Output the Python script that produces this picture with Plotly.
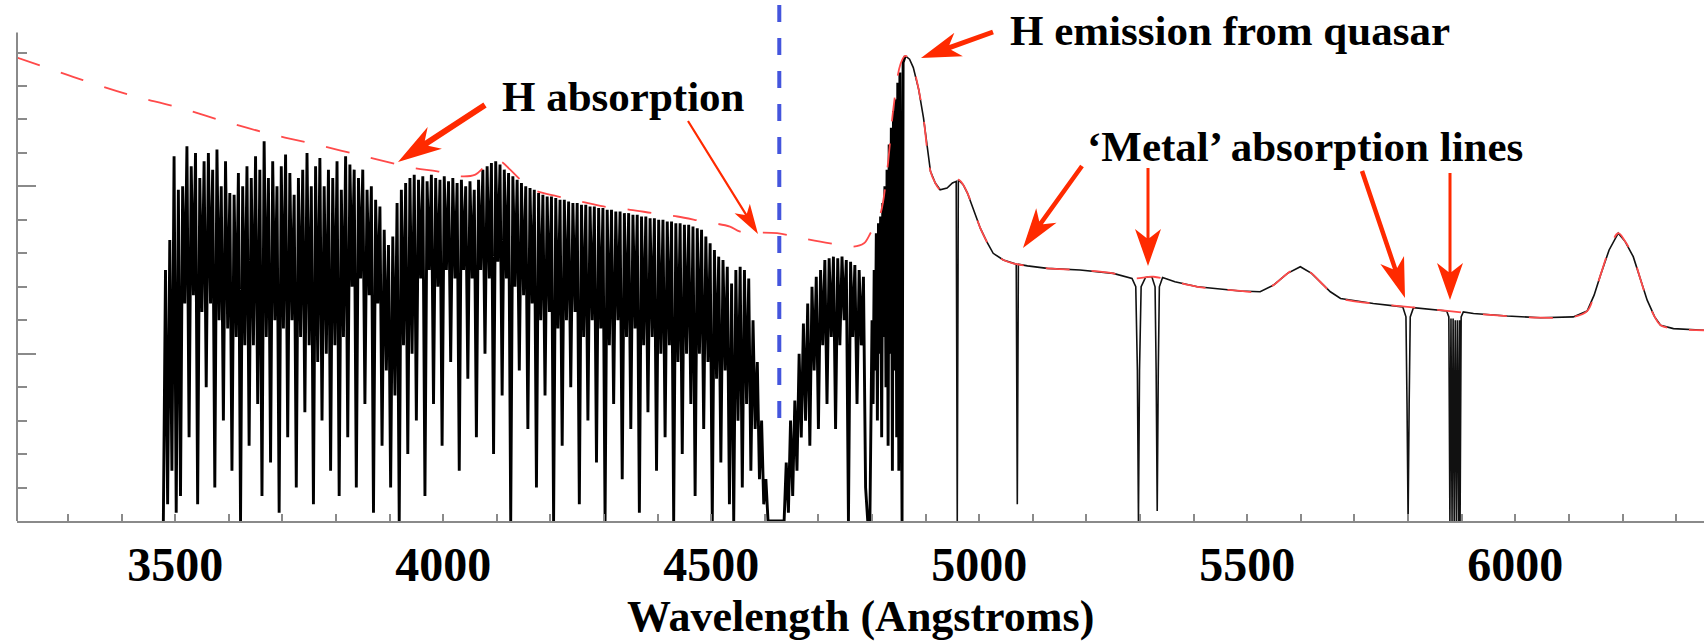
import plotly.graph_objects as go

# ---------------- data ----------------
# Lyman-alpha forest, part A (observed flux, alternating peaks / troughs)
forest_a_wl = [
    3478, 3482, 3486, 3490, 3494, 3498, 3502, 3506, 3510, 3514,
    3518, 3522, 3526, 3530, 3534, 3538, 3542, 3546, 3550, 3554,
    3558, 3562, 3566, 3570, 3574, 3578, 3582, 3586, 3590, 3594,
    3598, 3602, 3606, 3610, 3614, 3618, 3622, 3626, 3630, 3634,
    3638, 3642, 3646, 3650, 3654, 3658, 3662, 3666, 3670, 3674,
    3678, 3682, 3686, 3690, 3694, 3698, 3702, 3706, 3710, 3714,
    3718, 3722, 3726, 3730, 3734, 3738, 3742, 3746, 3750, 3754,
    3758, 3762, 3766, 3770, 3774, 3778, 3782, 3786, 3790, 3794,
    3798, 3802, 3806, 3810, 3814, 3818, 3822, 3826, 3830, 3834,
    3838, 3842, 3846, 3850, 3854, 3858, 3862, 3866, 3870, 3874,
    3878, 3882, 3886, 3890, 3894, 3898, 3902, 3906, 3910, 3914,
    3918, 3922, 3926, 3930, 3934, 3938, 3942, 3946, 3950, 3954,
    3958, 3962, 3966, 3970, 3974, 3978, 3982, 3986, 3990, 3994,
    3998, 4002, 4006, 4010, 4014, 4018, 4022, 4026, 4030, 4034,
    4038, 4042, 4046, 4050, 4054, 4058, 4062, 4066, 4070, 4074,
    4078, 4082, 4086, 4090, 4094, 4098, 4102, 4106, 4110, 4114,
    4118, 4122, 4126, 4130, 4134, 4138, 4142, 4146, 4150, 4154,
    4158, 4162, 4166, 4170, 4174, 4178, 4182, 4186, 4190, 4194,
    4198, 4202, 4206, 4210, 4214, 4218, 4222, 4226, 4230, 4234,
    4238, 4242, 4246, 4250, 4254, 4258, 4262, 4266, 4270, 4274,
    4278, 4282, 4286, 4290, 4294, 4298, 4302, 4306, 4310, 4314,
    4318, 4322, 4326, 4330, 4334, 4338, 4342, 4346, 4350, 4354,
    4358, 4362, 4366, 4370, 4374, 4378, 4382, 4386, 4390, 4394,
    4398, 4402, 4406, 4410, 4414, 4418, 4422, 4426, 4430, 4434,
    4438, 4442, 4446, 4450, 4454, 4458, 4462, 4466, 4470, 4474,
    4478, 4482, 4486, 4490, 4494, 4498, 4502, 4506, 4510, 4514,
    4518, 4522, 4526, 4530, 4534, 4538, 4542, 4546, 4550, 4554,
    4558, 4562, 4566, 4570, 4574, 4578, 4582, 4586, 4590, 4594,
    4598, 4602, 4606,
]
forest_a_flux = [
    0.00, 1.50, 0.10, 1.68, 0.30, 2.18, 0.05, 1.98, 0.15, 2.00,
    1.30, 2.24, 0.50, 2.12, 1.35, 2.20, 0.10, 2.05, 1.25, 2.15,
    0.80, 2.20, 1.30, 2.10, 0.20, 2.22, 1.20, 2.00, 0.60, 2.15,
    1.15, 1.96, 0.30, 1.95, 1.10, 2.08, 0.00, 2.00, 1.05, 2.12,
    0.45, 2.05, 1.05, 2.18, 0.70, 2.10, 0.15, 2.27, 1.10, 2.05,
    0.35, 2.15, 1.20, 2.00, 0.05, 2.12, 1.15, 2.19, 0.50, 2.08,
    1.20, 1.95, 0.20, 2.05, 1.10, 2.10, 0.65, 2.20, 1.05, 2.00,
    0.10, 2.12, 0.95, 2.17, 0.60, 2.00, 1.00, 2.10, 0.30, 2.05,
    1.05, 2.15, 0.15, 1.98, 1.10, 2.18, 0.50, 2.13, 1.40, 2.10,
    0.20, 2.05, 1.45, 2.10, 0.70, 1.98, 1.35, 2.00, 0.05, 1.92,
    1.30, 1.88, 0.45, 1.74, 0.90, 1.65, 0.20, 1.70, 0.75, 1.90,
    0.00, 1.98, 1.05, 2.02, 0.40, 2.05, 1.00, 2.07, 0.60, 2.04,
    1.45, 2.06, 0.15, 2.03, 1.50, 2.07, 0.70, 2.05, 1.40, 2.04,
    0.45, 2.06, 1.50, 2.03, 0.95, 2.05, 1.45, 2.02, 0.30, 2.04,
    1.50, 2.00, 0.85, 2.03, 1.45, 1.98, 0.50, 2.04, 1.50, 2.10,
    1.00, 2.12, 1.45, 2.14, 0.40, 2.15, 1.55, 2.13, 0.75, 2.10,
    1.45, 2.08, 0.00, 2.06, 1.40, 2.04, 0.90, 2.02, 1.35, 2.00,
    0.55, 1.99, 1.30, 1.98, 0.20, 1.96, 1.20, 1.95, 0.75, 1.94,
    1.25, 1.94, 0.00, 1.93, 1.15, 1.92, 0.45, 1.92, 1.20, 1.91,
    0.80, 1.90, 1.25, 1.90, 0.10, 1.89, 1.10, 1.89, 0.60, 1.88,
    1.20, 1.88, 0.35, 1.87, 1.15, 1.87, 0.00, 1.86, 1.05, 1.86,
    0.70, 1.85, 1.20, 1.85, 0.25, 1.84, 1.10, 1.84, 0.55, 1.83,
    1.15, 1.83, 0.05, 1.82, 1.05, 1.82, 0.65, 1.81, 1.10, 1.81,
    0.30, 1.80, 1.00, 1.80, 0.50, 1.79, 1.05, 1.79, 0.00, 1.78,
    0.95, 1.78, 0.40, 1.77, 1.00, 1.77, 0.70, 1.76, 0.15, 1.75,
    1.00, 1.74, 0.55, 1.70, 0.95, 1.66, 0.00, 1.62, 0.85, 1.58,
    0.35, 1.56, 0.90, 1.52, 0.10, 1.42, 0.00, 1.50, 0.60, 1.52,
    0.20, 1.50, 0.70, 1.45, 0.30, 1.20, 0.55, 0.95, 0.25, 0.60,
    0.10, 0.25, 0.00,
]

# Lyman-alpha forest, part B (red of the dashed marker, up to the emission peak)
forest_b_wl = [
    4636, 4640, 4644, 4648, 4652, 4656, 4660, 4664, 4668, 4672,
    4676, 4680, 4684, 4688, 4692, 4696, 4700, 4704, 4708, 4712,
    4716, 4720, 4724, 4728, 4732, 4736, 4740, 4744, 4748, 4752,
    4756, 4760, 4764, 4768, 4772, 4776, 4780, 4784, 4788, 4792,
    4796, 4800, 4802, 4804, 4806, 4808, 4810, 4812, 4814, 4816,
    4818, 4820, 4822, 4824, 4826, 4828, 4830, 4832, 4834, 4836,
    4838, 4840, 4842, 4844, 4846, 4848, 4850, 4852, 4854, 4856,
    4858, 4862,
]
forest_b_flux = [
    0.00, 0.35, 0.05, 0.60, 0.15, 0.72, 0.30, 1.00, 0.50, 1.18,
    0.60, 1.30, 0.45, 1.40, 0.90, 1.46, 0.55, 1.50, 1.05, 1.56,
    0.70, 1.57, 1.10, 1.58, 0.55, 1.57, 1.05, 1.58, 1.20, 1.56,
    0.00, 1.55, 1.10, 1.53, 0.70, 1.50, 1.05, 1.46, 0.20, 0.00,
    0.00, 1.20, 0.70, 1.50, 0.90, 1.72, 0.60, 1.78, 1.00, 1.82,
    0.50, 1.90, 1.10, 2.00, 0.80, 2.10, 0.45, 2.25, 1.00, 2.35,
    0.30, 2.45, 0.90, 2.52, 0.50, 2.62, 0.30, 2.68, 0.90, 0.00,
    2.74, 2.78,
]

# Observed spectrum red-ward of Lyman-alpha, with the metal absorption lines
red_wl = [
    4862, 4870, 4877, 4887, 4896, 4909, 4918, 4927, 4940, 4950,
    4957, 4959, 4961, 4970, 4978, 4990, 5002, 5014, 5026, 5045,
    5063, 5069, 5071, 5073, 5090, 5127, 5188, 5250, 5285, 5292,
    5295, 5297, 5299, 5302, 5310, 5316, 5322, 5328, 5330, 5332,
    5334, 5336, 5342, 5365, 5407, 5450, 5487, 5524, 5549, 5575,
    5599, 5620, 5636, 5655, 5674, 5735, 5790, 5796, 5798, 5800,
    5802, 5804, 5810, 5860, 5872, 5876, 5878, 5880, 5882, 5884,
    5886, 5888, 5890, 5892, 5894, 5896, 5897, 5899, 5903, 5922,
    5985, 6047, 6108, 6134, 6147, 6159, 6175, 6192, 6205, 6220,
    6233, 6246, 6260, 6271, 6295, 6353,
]
red_flux = [
    2.78, 2.76, 2.71, 2.58, 2.41, 2.09, 2.02, 1.98, 1.99, 2.02,
    2.03, 0.00, 2.04, 2.01, 1.96, 1.86, 1.75, 1.67, 1.60, 1.56,
    1.54, 1.535, 0.10, 1.535, 1.525, 1.51, 1.50, 1.48, 1.45, 1.40,
    0.90, 0.00, 0.90, 1.40, 1.455, 1.46, 1.46, 1.40, 0.90, 0.06,
    0.90, 1.40, 1.455, 1.43, 1.40, 1.385, 1.375, 1.37, 1.41, 1.48,
    1.52, 1.48, 1.43, 1.37, 1.33, 1.30, 1.28, 1.22, 0.70, 0.00,
    0.70, 1.22, 1.275, 1.26, 1.255, 1.22, 0.00, 1.21, 0.00, 1.21,
    0.00, 1.20, 0.00, 1.20, 0.00, 1.20, 0.00, 1.22, 1.25, 1.24,
    1.225, 1.215, 1.22, 1.255, 1.35, 1.47, 1.62, 1.72, 1.67, 1.58,
    1.45, 1.32, 1.22, 1.17, 1.15, 1.14,
]

# Unabsorbed quasar continuum (red dashed)
cont_wl = [
    3205, 3328, 3416, 3504, 3590, 3677, 3765, 3858, 3944, 3989,
    4032, 4060, 4075, 4090, 4106, 4125, 4144, 4168, 4213, 4256,
    4299, 4349, 4392, 4437, 4485, 4535, 4554, 4623, 4670, 4722,
    4765, 4785, 4797, 4815, 4828, 4840, 4853, 4862, 4870, 4877,
    4887, 4896, 4909, 4918, 4927, 4940, 4950, 4961, 4970, 4978,
    4990, 5002, 5014, 5026, 5045, 5063, 5127, 5188, 5250, 5287,
    5325, 5365, 5407, 5450, 5487, 5524, 5549, 5575, 5599, 5620,
    5636, 5655, 5674, 5735, 5799, 5860, 5922, 5985, 6047, 6108,
    6134, 6147, 6159, 6175, 6192, 6205, 6220, 6233, 6246, 6260,
    6271, 6295, 6353,
]
cont_flux = [
    2.77, 2.635, 2.546, 2.474, 2.39, 2.313, 2.248, 2.176, 2.11, 2.09,
    2.06, 2.07, 2.11, 2.14, 2.15, 2.10, 2.04, 1.98, 1.94, 1.91,
    1.88, 1.86, 1.84, 1.82, 1.79, 1.76, 1.73, 1.72, 1.69, 1.66,
    1.64, 1.66, 1.72, 1.83, 2.09, 2.47, 2.73, 2.78, 2.76, 2.71,
    2.58, 2.41, 2.09, 2.02, 1.98, 1.99, 2.02, 2.04, 2.01, 1.96,
    1.86, 1.75, 1.67, 1.60, 1.56, 1.54, 1.51, 1.50, 1.48, 1.45,
    1.46, 1.43, 1.40, 1.385, 1.375, 1.37, 1.41, 1.48, 1.52, 1.48,
    1.43, 1.37, 1.33, 1.30, 1.28, 1.26, 1.24, 1.225, 1.215, 1.22,
    1.255, 1.35, 1.47, 1.62, 1.72, 1.67, 1.58, 1.45, 1.32, 1.22,
    1.17, 1.15, 1.14,
]

lya_marker_wl = 4627          # observed Lyman-alpha position marker (blue dashed)
x_tick_vals = [3500, 4000, 4500, 5000, 5500, 6000]
x_tick_text = ["3500", "4000", "4500", "5000", "5500", "6000"]

for a, b in [(forest_a_wl, forest_a_flux), (forest_b_wl, forest_b_flux),
             (red_wl, red_flux), (cont_wl, cont_flux)]:
    if len(a) != len(b):
        raise ValueError(f"length mismatch {len(a)} vs {len(b)}")

forest_wl = forest_a_wl + forest_b_wl
forest_flux = forest_a_flux + forest_b_flux

# ---------------- geometry / style ----------------
W, H = 1704, 644
ML, MR, MT, MB = 17, 0, 0, 123
PW, PH = W - ML - MR, H - MT - MB
X_RANGE = [3205, 6352]
Y_RANGE = [0, 3.114]
Y_AXIS_TOP = 2.92
AXIS_GREY = "#8a8a8a"
ARROW_RED = "#ff2a00"
FONT = "Liberation Serif"


def px(x):
    return (x - ML) / PW


def py(y):
    return (MT + PH - y) / PH


def arrow_path(tail, tip, shaft, head_len, head_w, notch):
    (x0, y0), (x1, y1) = tail, tip
    dx, dy = x1 - x0, y1 - y0
    L = (dx * dx + dy * dy) ** 0.5
    ux, uy = dx / L, dy / L
    nx, ny = -uy, ux
    bx, by = x1 - ux * head_len, y1 - uy * head_len
    kx, ky = x1 - ux * (head_len - notch), y1 - uy * (head_len - notch)
    hs, hw = shaft / 2, head_w / 2
    pts = [(x0 + nx * hs, y0 + ny * hs), (kx + nx * hs, ky + ny * hs),
           (bx + nx * hw, by + ny * hw), (x1, y1),
           (bx - nx * hw, by - ny * hw), (kx - nx * hs, ky - ny * hs),
           (x0 - nx * hs, y0 - ny * hs)]
    return "M " + " L ".join(f"{px(a):.5f},{py(b):.5f}" for a, b in pts) + " Z"


fig = go.Figure()
fig.add_trace(go.Scatter(x=forest_wl, y=forest_flux, mode="lines",
                         line=dict(color="black", width=2.9), hoverinfo="skip"))
fig.add_trace(go.Scatter(x=red_wl, y=red_flux, mode="lines",
                         line=dict(color="#111111", width=1.6), hoverinfo="skip"))
fig.add_trace(go.Scatter(x=cont_wl, y=cont_flux, mode="lines", line_shape="spline",
                         line=dict(color="#ff4a4a", width=1.8, dash="24px,22px"),
                         hoverinfo="skip"))

shapes = []
# y axis line (only up to its top end)
shapes.append(dict(type="line", xref="paper", yref="y", x0=0, x1=0, y0=0, y1=Y_AXIS_TOP,
                   line=dict(color=AXIS_GREY, width=2)))
# blue dashed Lyman-alpha marker
shapes.append(dict(type="line", xref="x", yref="y", x0=lya_marker_wl, x1=lya_marker_wl,
                   y0=0.616, y1=Y_RANGE[1], line=dict(color="#4455dd", width=4, dash="17px,16px")))

arrows = [  # tail (px), tip (px), shaft, head length, head width, notch
    ((485, 105), (398, 162), 6, 44, 26, 10),
    ((688, 121), (758, 234), 2.2, 30, 18, 7),
    ((993, 32), (921, 58), 5, 40, 25, 9),
    ((1082, 166), (1023, 248), 4.5, 40, 25, 9),
    ((1148, 168), (1148, 266), 3, 37, 26, 9),
    ((1362, 171), (1405, 298), 4.5, 40, 25, 9),
    ((1450, 173), (1450, 300), 3, 37, 26, 9),
]
for tail, tip, s, hl, hw, n in arrows:
    shapes.append(dict(type="path", xref="paper", yref="paper",
                       path=arrow_path(tail, tip, s, hl, hw, n),
                       fillcolor=ARROW_RED, line=dict(width=0), layer="above"))

texts = [
    ("H absorption", 500, 97),
    ("H emission from quasar", 1008, 30),
    ("\u2018Metal\u2019 absorption lines", 1085, 146),
]
annotations = []
for t, x, y in texts:
    annotations.append(dict(text=t, xref="paper", yref="paper", x=px(x), y=py(y),
                            xanchor="left", yanchor="middle", showarrow=False,
                            font=dict(family=FONT, size=43, color="black", weight="bold")))
annotations.append(dict(text="Wavelength (Angstroms)", xref="paper", yref="paper",
                        x=0.5, y=py(616), xanchor="center", yanchor="middle", showarrow=False,
                        font=dict(family=FONT, size=44, color="black", weight="bold")))

x_minor = [v for v in range(3300, 6400, 100) if v not in x_tick_vals]
y_minor = [0.2, 0.4, 0.6, 0.8, 1.2, 1.4, 1.6, 1.8, 2.2, 2.4, 2.6, 2.8]

fig.update_layout(
    width=W, height=H, margin=dict(l=ML, r=MR, t=MT, b=MB, pad=0),
    paper_bgcolor="white", plot_bgcolor="white", showlegend=False, hovermode=False,
    shapes=shapes, annotations=annotations,
    xaxis=dict(range=X_RANGE, showgrid=False, zeroline=False, showline=True,
               linecolor=AXIS_GREY, linewidth=2, ticks="inside", ticklen=7, tickwidth=1.5,
               tickcolor=AXIS_GREY, tickmode="array", tickvals=x_tick_vals, ticktext=x_tick_text,
               tickfont=dict(family=FONT, size=48, color="black", weight="bold"),
               minor=dict(tickmode="array", tickvals=x_minor, ticks="inside", ticklen=7,
                          tickwidth=1.5, tickcolor=AXIS_GREY, showgrid=False)),
    yaxis=dict(range=Y_RANGE, showgrid=False, zeroline=False, showline=False,
               ticks="inside", ticklen=19, tickwidth=1.5, tickcolor=AXIS_GREY,
               tickmode="array", tickvals=[1, 2], showticklabels=False,
               minor=dict(tickmode="array", tickvals=y_minor, ticks="inside", ticklen=10,
                          tickwidth=1.5, tickcolor=AXIS_GREY, showgrid=False)),
)

fig.write_html("out.html", config={"displayModeBar": False},
               post_script="document.body.style.margin='0';document.body.style.overflow='hidden';")
